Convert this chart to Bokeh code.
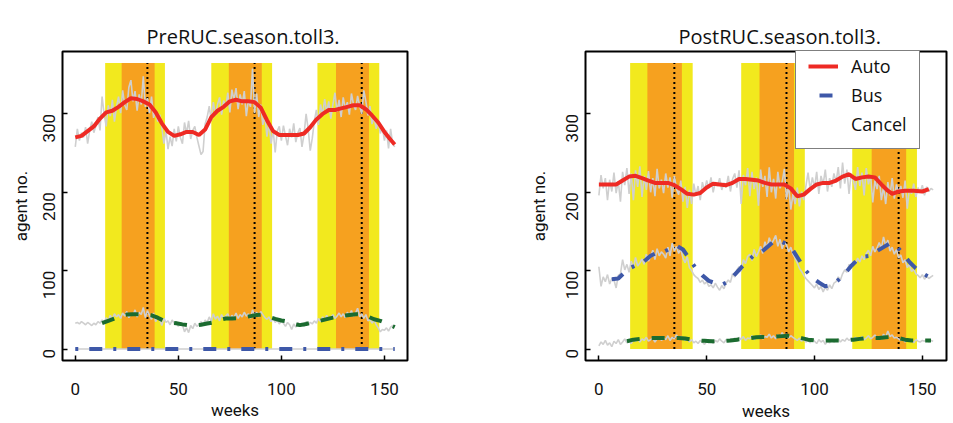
import math
from bokeh.plotting import figure
from bokeh.layouts import row
from bokeh.models import FixedTicker, Legend, LegendItem
from bokeh.embed import file_html
from bokeh.resources import INLINE

# ---------------- data ----------------
weeks = list(range(156))

# seasonal bands (weeks)
yellow_start = [14.5, 66.0, 117.5]
yellow_end = [43.5, 95.5, 147.5]
orange_start = [22.5, 74.5, 126.5]
orange_end = [38.5, 90.5, 142.5]
season_peak = [35.0, 87.0, 139.0]
band_bottom = 0
band_top = 365

x_ticks = [0, 50, 100, 150]
y_ticks = [0, 100, 200, 300]

# ---- PreRUC panel ----
pre_auto_raw = [
    258, 281, 266, 276, 270, 283, 262, 279, 290, 276,
    285, 296, 279, 322, 300, 284, 311, 297, 318, 290,
    309, 322, 301, 330, 311, 305, 334, 343, 316, 329,
    304, 325, 312, 348, 309, 320, 301, 322, 295, 305,
    290, 299, 283, 262, 279, 255, 271, 259, 281, 265,
    284, 270, 262, 289, 275, 291, 268, 279, 284, 270,
    259, 248, 252, 287, 296, 310, 291, 315, 298, 312,
    321, 299, 317, 308, 327, 302, 331, 318, 333, 306,
    325, 312, 329, 297, 318, 309, 358, 301, 326, 296,
    312, 286, 298, 271, 289, 262, 280, 251, 278, 284,
    266, 285, 272, 260, 281, 270, 288, 264, 276, 282,
    258, 274, 300, 281, 253, 269, 291, 305, 286, 312,
    298, 319, 302, 316, 294, 312, 327, 303, 318, 296,
    321, 307, 315, 299, 326, 312, 305, 323, 310, 300,
    330, 316, 298, 310, 287, 296, 281, 291, 275, 283,
    266, 279, 256, 281, 262, 258]
pre_cancel_raw = [
    33, 34, 32, 35, 33, 31, 34, 32, 30, 33,
    31, 35, 33, 37, 34, 40, 36, 43, 38, 45,
    41, 44, 39, 46, 42, 48, 40, 45, 43, 50,
    41, 47, 44, 53, 40, 49, 43, 38, 46, 35,
    41, 37, 30, 39, 34, 36, 31, 37, 33, 35,
    29, 34, 31, 22, 27, 21, 30, 26, 33, 29,
    31, 35, 30, 37, 34, 41, 35, 45, 38, 42,
    36, 44, 39, 42, 45, 38, 43, 40, 46, 39,
    44, 41, 47, 42, 45, 39, 50, 43, 47, 41,
    48, 44, 40, 38, 41, 35, 39, 34, 37, 32,
    36, 33, 29, 34, 31, 25, 32, 28, 34, 30,
    33, 29, 35, 31, 34, 32, 36, 33, 39, 35,
    41, 37, 43, 38, 40, 44, 39, 42, 46, 41,
    45, 40, 47, 43, 49, 42, 46, 52, 41, 45,
    39, 44, 36, 38, 33, 37, 31, 27, 22, 25,
    24, 27, 23, 28, 30, 29]
pre_bus_raw_x = [0, 155]
pre_bus_raw = [0, 0]

pre_auto_sx = [0, 3, 6, 9, 12, 15, 18, 21, 24, 27, 30, 33, 36, 39, 42, 45, 48, 51,
               54, 57, 60, 63, 66, 69, 72, 75, 78, 81, 84, 87, 90, 93, 96, 99, 102,
               105, 108, 111, 114, 117, 120, 123, 126, 129, 132, 135, 138, 141, 144,
               147, 150, 153, 155]
pre_auto_sy = [270, 272, 278, 284, 294, 302, 304, 309, 315, 320, 319, 316, 312, 302,
               288, 277, 272, 274, 277, 277, 273, 280, 296, 304, 309, 316, 318, 316,
               316, 315, 308, 292, 278, 273, 273, 273, 273, 275, 283, 293, 300, 305,
               305, 307, 309, 311, 311, 306, 298, 289, 277, 267, 261]
pre_bus_sx = [0, 155]
pre_bus_sy = [0, 0]
pre_cancel_sx = [13, 16, 19, 22, 25, 28, 31, 34, 37, 40, 43, 46, 49, 52, 55, 58, 61,
                 64, 67, 70, 73, 76, 79, 82, 85, 88, 91, 94, 97, 100, 103, 106, 109,
                 112, 115, 118, 121, 124, 127, 130, 133, 136, 139, 142, 145, 148, 151,
                 155]
pre_cancel_sy = [33, 36, 39, 42, 44, 44.5, 44.5, 44, 43, 40, 36, 34, 33, 31.5, 30.5,
                 30, 31, 32.5, 34, 37, 39, 39, 39.5, 40.5, 42, 43.5, 44, 41, 38.5,
                 36.5, 35, 32, 30.5, 32, 34, 35.5, 37.5, 39.5, 41, 42.5, 43.5, 44.5,
                 44, 41.5, 38, 36, 33, 28]

# ---- PostRUC panel ----
post_auto_raw = [
    196, 222, 205, 218, 190, 216, 201, 225, 199, 214,
    188, 226, 209, 231, 198, 224, 190, 228, 207, 233,
    194, 221, 203, 227, 200, 218, 195, 230, 205, 216,
    199, 224, 206, 219, 193, 221, 204, 197, 215, 188,
    207, 180, 203, 185, 211, 196, 208, 190, 213, 202,
    215, 205, 219, 200, 213, 208, 218, 203, 212, 206,
    221, 201, 217, 224, 206, 228, 185, 222, 209, 231,
    195, 226, 204, 219, 183, 229, 207, 221, 194, 232,
    200, 217, 192, 226, 205, 213, 230, 191, 209, 178,
    198, 185, 206, 182, 201, 190, 208, 225, 203, 219,
    206, 226, 198, 221, 210, 229, 201, 218, 207, 224,
    213, 232, 205, 238, 211, 229, 198, 224, 215, 203,
    232, 208, 225, 196, 231, 210, 222, 187, 215, 204,
    221, 190, 207, 185, 213, 196, 218, 192, 210, 199,
    208, 193, 215, 179, 205, 198, 211, 194, 206, 200,
    209, 196, 207, 201, 205, 203]
post_bus_raw = [
    105, 80, 92, 86, 95, 83, 90, 88, 78, 94,
    96, 114, 101, 108, 98, 112, 103, 117, 106, 110,
    115, 108, 121, 112, 118, 126, 114, 128, 119, 124,
    121, 116, 130, 119, 135, 125, 131, 122, 128, 116,
    110, 118, 104, 100, 95, 92, 90, 85, 88, 83,
    86, 80, 82, 78, 84, 79, 75, 81, 77, 84,
    88, 85, 96, 92, 101, 105, 99, 114, 109, 118,
    121, 113, 127, 118, 124, 131, 122, 137, 129, 142,
    134, 139, 145, 131, 140, 128, 136, 133, 124, 130,
    121, 116, 110, 103, 99, 94, 90, 87, 84, 81,
    78, 83, 76, 80, 73, 79, 75, 82, 77, 84,
    86, 92, 88, 96, 101, 98, 108, 103, 112, 109,
    116, 111, 119, 114, 122, 126, 119, 131, 124, 129,
    136, 128, 143, 132, 139, 125, 130, 121, 127, 116,
    120, 110, 114, 104, 108, 99, 102, 96, 94, 91,
    95, 89, 93, 90, 92, 94]
post_cancel_raw = [
    4, 9, 6, 11, 5, 8, 3, 10, 7, 12,
    6, 9, 13, 8, 11, 7, 12, 10, 14, 9,
    13, 11, 15, 10, 12, 14, 9, 13, 16, 11,
    14, 12, 17, 11, 15, 13, 18, 12, 16, 14,
    11, 13, 9, 12, 8, 10, 7, 11, 9, 6,
    10, 8, 12, 7, 11, 9, 13, 10, 8, 12,
    9, 13, 11, 14, 10, 15, 12, 16, 11, 14,
    13, 17, 12, 15, 14, 18, 13, 16, 15, 19,
    14, 17, 13, 18, 15, 21, 16, 19, 14, 17,
    15, 13, 11, 14, 10, 12, 9, 11, 8, 13,
    10, 7, 12, 9, 11, 6, 10, 8, 12, 9,
    11, 13, 9, 12, 10, 14, 11, 13, 12, 15,
    13, 11, 16, 12, 14, 17, 13, 15, 18, 14,
    16, 13, 19, 15, 23, 16, 18, 14, 15, 13,
    11, 13, 9, 12, 10, 11, 8, 12, 10, 9,
    11, 10, 12, 9, 11, 10]

post_auto_sx = [0, 4, 8, 11, 14, 17, 20, 23, 26, 29, 32, 35, 38, 41, 44, 47, 50, 53,
                56, 59, 62, 65, 68, 71, 74, 77, 80, 83, 86, 89, 92, 95, 98, 101, 104,
                107, 110, 113, 116, 119, 122, 125, 128, 131, 134, 136, 139, 142, 146,
                150, 153]
post_auto_sy = [210, 210, 210, 215, 220, 221, 218, 215, 212, 212, 212, 209, 204, 198,
                197, 199, 206, 211, 210, 209, 212, 217, 217, 216, 215, 212, 210, 210,
                210, 205, 195, 197, 204, 210, 212, 212, 215, 220, 223, 217, 219, 220,
                219, 210, 202, 198, 201, 202, 202, 201, 204]
post_bus_sx = [6, 9, 12, 15, 18, 21, 24, 27, 30, 33, 36, 39, 42, 45, 48, 51, 54, 57,
               60, 63, 66, 69, 72, 75, 78, 81, 84, 87, 90, 93, 96, 99, 102, 105, 108,
               111, 114, 117, 120, 123, 126, 129, 132, 135, 138, 141, 144, 147, 150,
               153]
post_bus_sy = [89, 90, 98, 104, 108, 112, 119, 123, 124, 128, 132, 127, 115, 103, 94,
               87, 84, 82, 86, 95, 104, 112, 120, 123, 130, 137, 138, 134, 126, 113,
               100, 91, 85, 80, 82, 88, 96, 106, 114, 118, 119, 125, 130, 135, 131,
               122, 111, 103, 97, 92]
post_cancel_sx = [13, 16, 19, 22, 25, 28, 31, 34, 37, 40, 43, 46, 49, 52, 55, 58, 61,
                  64, 67, 70, 73, 76, 79, 82, 85, 88, 91, 94, 97, 100, 103, 106, 109,
                  112, 115, 118, 121, 124, 127, 130, 133, 136, 139, 142, 145, 148, 151,
                  154]
post_cancel_sy = [10, 12, 13, 13.5, 14, 14, 14, 14, 14, 13.5, 12, 11, 10.5, 10, 10,
                  10.5, 11, 12, 13, 14, 15, 15.5, 15.5, 16, 16.5, 17, 16, 14, 12, 11,
                  11, 11, 11, 11, 11.5, 12, 13, 14, 14, 14, 15, 15.5, 14, 12, 11, 11,
                  11, 11]

legend_labels = ["Auto", "Bus", "Cancel"]

# ---------------- style ----------------
RED = "#EE2A24"
BLUE = "#3E58A8"
GREEN = "#1B6B30"
GREY = "#CFCFCF"
YELLOW = "#F2E91E"
ORANGE = "#F6A11F"
TICK_FONT = "Roboto"
TEXT_FONT = "Open Sans"


def make_panel(title, title_offset, width, bleft, bright, btop, bbottom,
               y_label_standoff, x_label_standoff,
               auto_x, auto_raw, bus_x, bus_raw, canc_x, canc_raw,
               a_sx, a_sy, b_sx, b_sy, b_offset, c_sx, c_sy):
    p = figure(width=width, height=423, output_backend="svg", toolbar_location=None,
               x_range=(-6.2, 161.2), y_range=(-14.6, 379.6),
               min_border_left=bleft, min_border_right=bright,
               min_border_top=btop, min_border_bottom=bbottom)
    p.title.text = title
    p.title.align = "left"
    p.title.offset = title_offset
    p.title.standoff = 3
    p.title.text_font = TEXT_FONT
    p.title.text_font_size = "20px"
    p.title.text_font_style = "normal"
    p.title.text_color = "#111111"

    p.grid.visible = False
    p.outline_line_color = "black"
    p.outline_line_width = 2
    p.background_fill_color = "white"
    p.border_fill_color = "white"

    for ax in (p.xaxis[0], p.yaxis[0]):
        ax.axis_line_color = None
        ax.major_tick_in = 5
        ax.major_tick_out = 0
        ax.major_tick_line_color = "black"
        ax.major_tick_line_width = 1.5
        ax.minor_tick_line_color = None
        ax.major_label_text_font = TICK_FONT
        ax.major_label_text_font_size = "17px"
        ax.major_label_text_color = "#111111"
        ax.axis_label_text_font = TICK_FONT
        ax.axis_label_text_font_size = "17px"
        ax.axis_label_text_font_style = "normal"
        ax.axis_label_text_color = "#111111"
    p.xaxis.ticker = FixedTicker(ticks=x_ticks)
    p.yaxis.ticker = FixedTicker(ticks=y_ticks)
    p.yaxis.major_label_orientation = math.pi / 2
    p.xaxis.axis_label = "weeks"
    p.yaxis.axis_label = "agent no."
    p.xaxis.major_label_standoff = 22
    p.xaxis.axis_label_standoff = x_label_standoff
    p.yaxis.major_label_standoff = 13
    p.yaxis.axis_label_standoff = y_label_standoff

    # seasonal bands
    p.quad(left=yellow_start, right=yellow_end, bottom=band_bottom, top=band_top,
           fill_color=YELLOW, line_color=None)
    p.quad(left=orange_start, right=orange_end, bottom=band_bottom, top=band_top,
           fill_color=ORANGE, line_color=None)
    p.segment(x0=season_peak, y0=band_bottom, x1=season_peak, y1=band_top,
              line_color="black", line_width=2, line_dash="2 3")

    # raw series
    p.line(auto_x, auto_raw, line_color=GREY, line_width=1.6)
    p.line(bus_x, bus_raw, line_color=GREY, line_width=1.6)
    p.line(canc_x, canc_raw, line_color=GREY, line_width=1.6)

    # smoothed series
    r_auto = p.line(a_sx, a_sy, line_color=RED, line_width=4)
    p.line(b_sx, b_sy, line_color=BLUE, line_width=4, line_dash="13 11 3 11",
           line_dash_offset=b_offset)
    p.line(c_sx, c_sy, line_color=GREEN, line_width=4, line_dash="13 12")
    return p, r_auto


p1, _ = make_panel("PreRUC.season.toll3.", 84, 476, 62, 69, 51, 63, 4, 2,
                   weeks, pre_auto_raw, pre_bus_raw_x, pre_bus_raw, weeks, pre_cancel_raw,
                   pre_auto_sx, pre_auto_sy, pre_bus_sx, pre_bus_sy, 24,
                   pre_cancel_sx, pre_cancel_sy)

p2, r_auto2 = make_panel("PostRUC.season.toll3.", 93, 477, 109, 7, 35, 63, 9, 3,
                         weeks, post_auto_raw, weeks, post_bus_raw, weeks, post_cancel_raw,
                         post_auto_sx, post_auto_sy, post_bus_sx, post_bus_sy, 0,
                         post_cancel_sx, post_cancel_sy)

# legend (right panel): stand-in renderers holding a single missing point
nan = float("nan")
leg_bus = p2.line([nan], [nan], line_color=BLUE, line_width=4, line_dash="13 11 3 11",
                  line_dash_offset=27)
leg_cancel = p2.line([nan], [nan], line_color=GREEN, line_width=4, line_alpha=0)
legend = Legend(items=[LegendItem(label=legend_labels[0], renderers=[r_auto2]),
                       LegendItem(label=legend_labels[1], renderers=[leg_bus]),
                       LegendItem(label=legend_labels[2], renderers=[leg_cancel])],
                location=(210, 211), orientation="vertical",
                padding=12, spacing=5, margin=0,
                glyph_width=30, glyph_height=22, label_height=22,
                label_standoff=13,
                label_text_font=TEXT_FONT, label_text_font_size="18px",
                label_text_color="#111111",
                border_line_color="black", border_line_width=1.5,
                background_fill_color="white", background_fill_alpha=1)
p2.add_layout(legend, "center")

layout = row(p1, p2, spacing=0)
open("out.html", "w").write(file_html(layout, INLINE))
